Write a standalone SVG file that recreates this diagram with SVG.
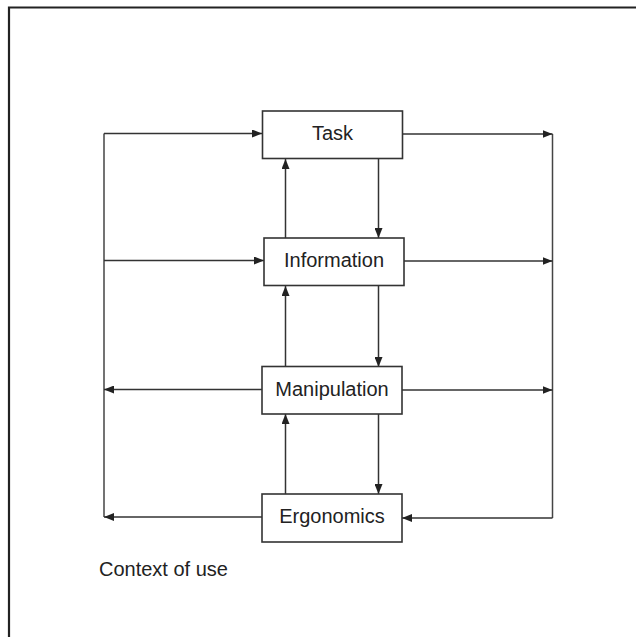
<svg xmlns="http://www.w3.org/2000/svg" width="636" height="637" viewBox="0 0 636 637">
<defs>
<marker id="ah" markerWidth="10" markerHeight="8" refX="10" refY="4" orient="auto" markerUnits="userSpaceOnUse">
<path d="M0,0 L10,4 L0,8 Z" fill="#222"/>
</marker>
</defs>
<style>
.box{fill:#fff;stroke:#333;stroke-width:1.6}
.lbl{font-family:"Liberation Sans",Arial,sans-serif;font-size:20px;fill:#222;text-anchor:middle}
.ln{fill:none;stroke:#444;stroke-width:1.5}
.arr{fill:none;stroke:#333;stroke-width:1.5;marker-end:url(#ah)}
</style>
<rect width="636" height="637" fill="#fff"/>
<path d="M9,637 V7.5 H636" fill="none" stroke="#222" stroke-width="2.2"/>
<g id="connectors">
<path class="ln" d="M104,133.5 V517"/>
<path class="ln" d="M552.5,134 V518"/>
<path class="arr" d="M104,133.5 H262"/>
<path class="arr" d="M104,260.5 H264"/>
<path class="arr" d="M262,389.5 H104"/>
<path class="arr" d="M262,517 H104"/>
<path class="arr" d="M403,134 H552.5"/>
<path class="arr" d="M404,261 H552.5"/>
<path class="arr" d="M402,390 H552.5"/>
<path class="arr" d="M552.5,518 H402"/>
<path class="arr" d="M285.5,238 V159"/>
<path class="arr" d="M285.5,367 V286"/>
<path class="arr" d="M285.5,494 V414"/>
<path class="arr" d="M378.5,159 V238"/>
<path class="arr" d="M378.5,286 V367"/>
<path class="arr" d="M378.5,414 V494"/>
</g>
<g id="task"><rect class="box" x="262.5" y="111" width="140" height="47.5"/><text class="lbl" x="332.5" y="139.5">Task</text></g>
<g id="information"><rect class="box" x="264" y="238" width="140" height="47.5"/><text class="lbl" x="334" y="267">Information</text></g>
<g id="manipulation"><rect class="box" x="262" y="366.5" width="140" height="47.5"/><text class="lbl" x="332" y="395.5">Manipulation</text></g>
<g id="ergonomics"><rect class="box" x="262" y="494" width="140" height="48"/><text class="lbl" x="332" y="523">Ergonomics</text></g>
<text id="context" x="99" y="576" style="font-family:'Liberation Sans',Arial,sans-serif;font-size:20px;fill:#222">Context of use</text>
</svg>
